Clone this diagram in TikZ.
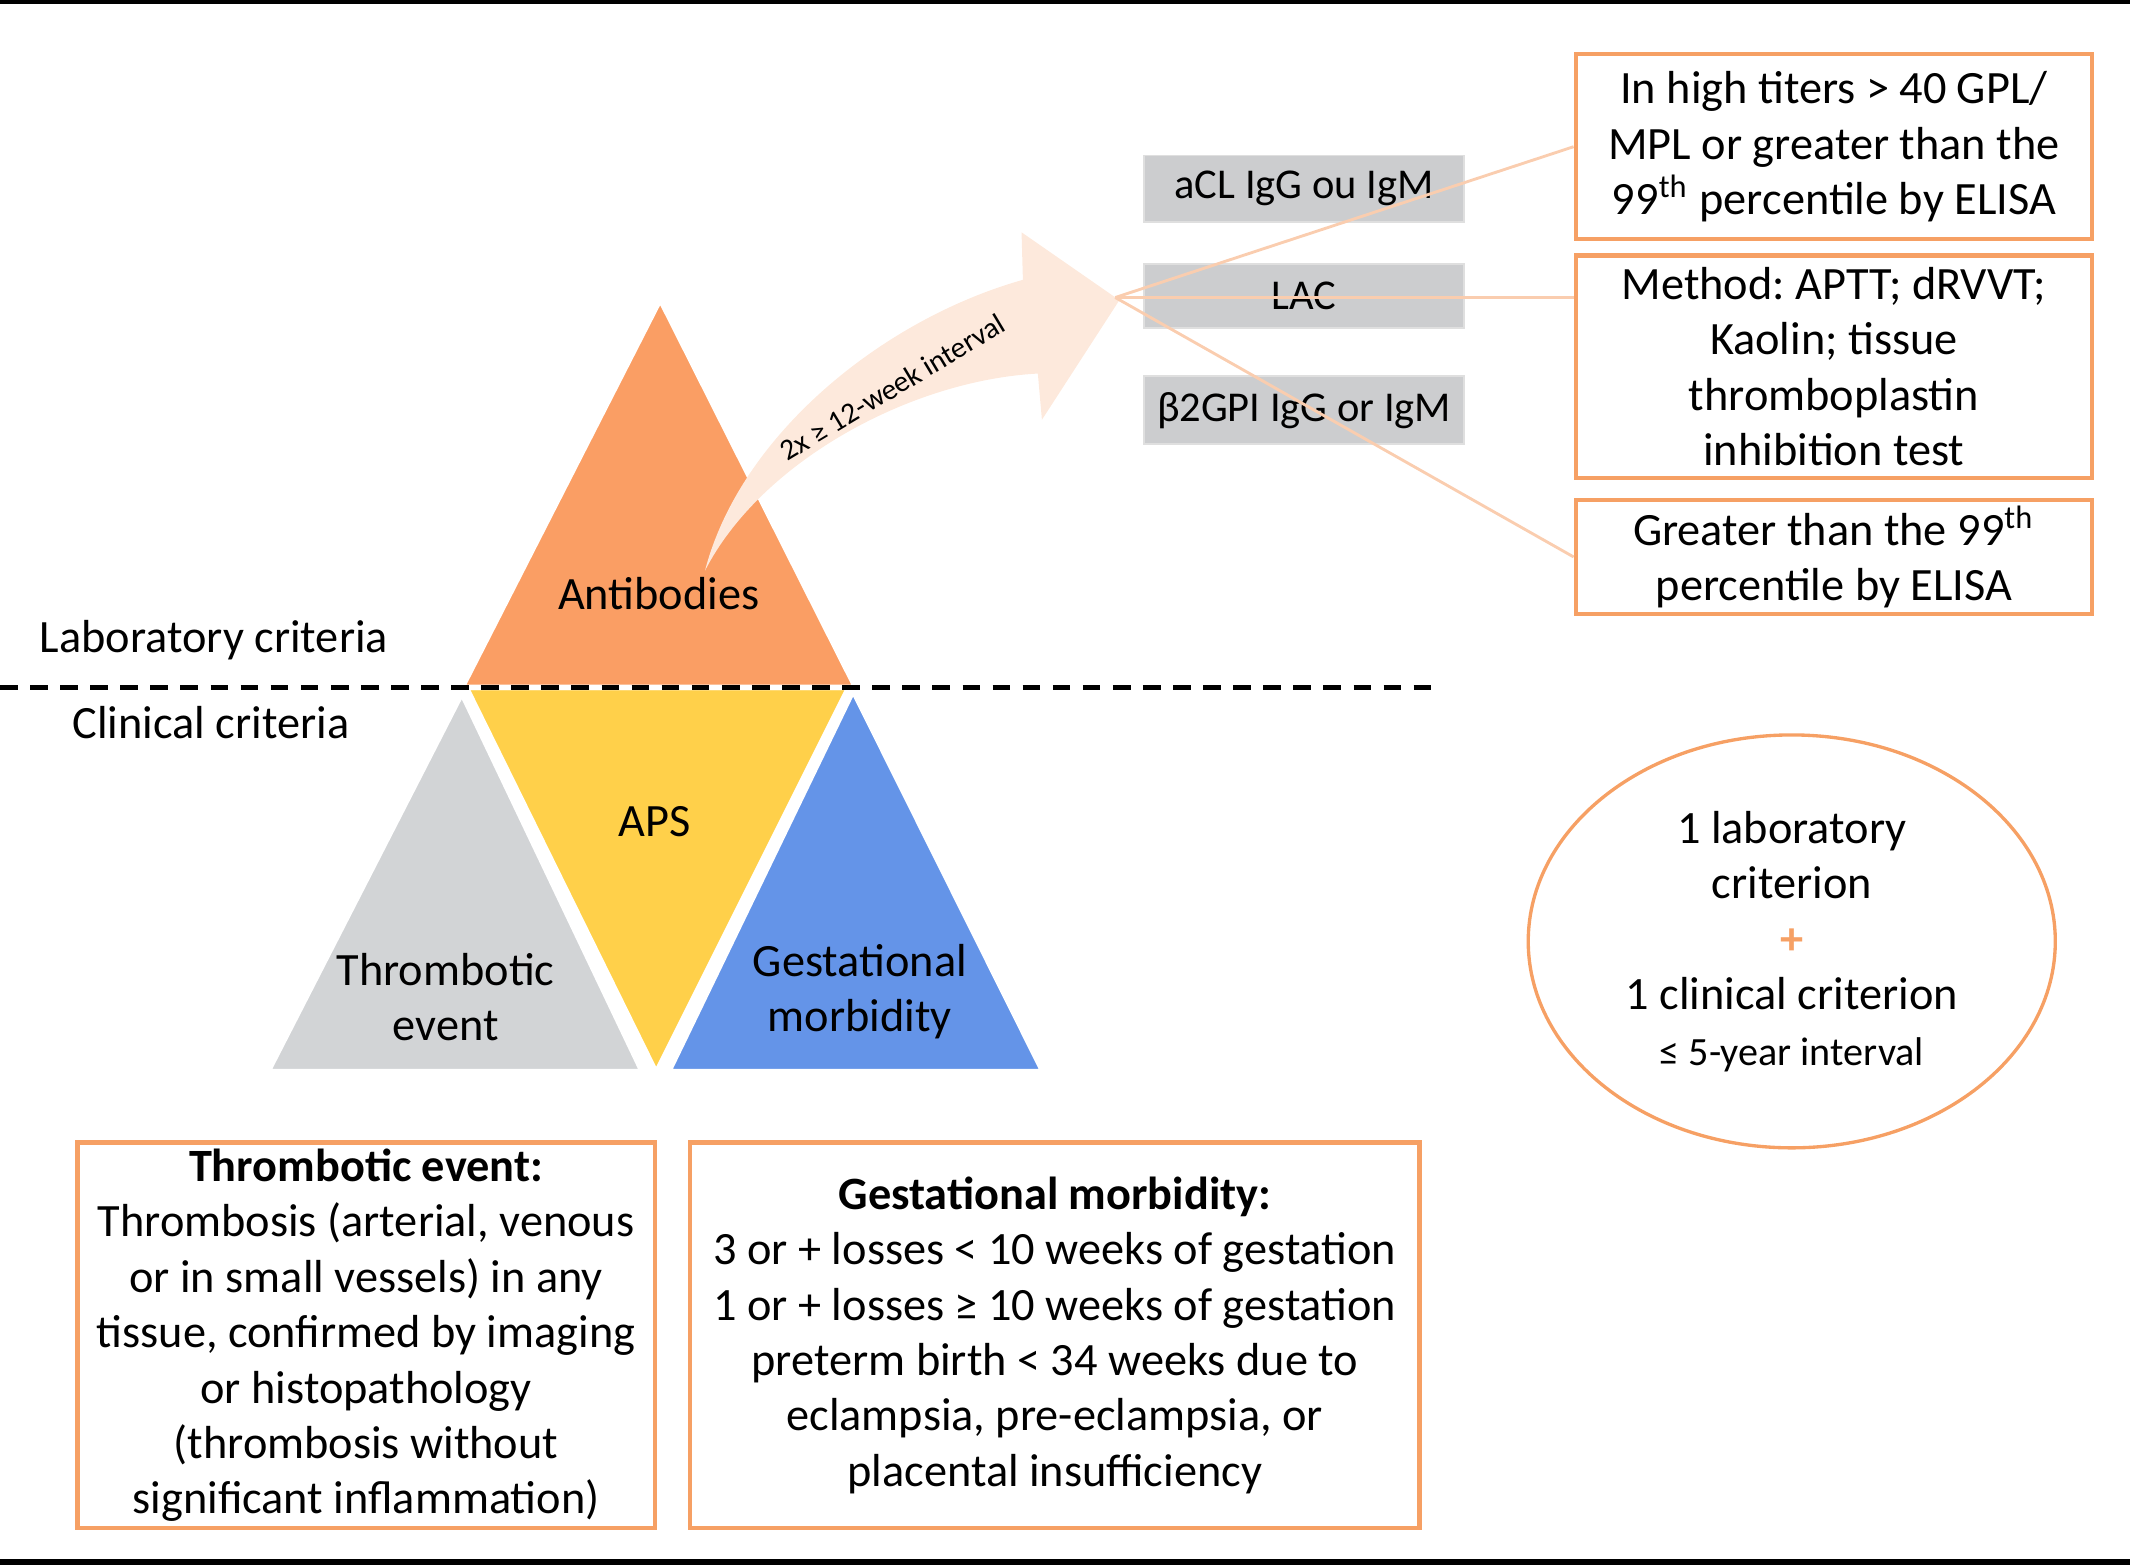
\documentclass[tikz,border=0pt]{standalone}
\usepackage{fontspec}
\setmainfont{Carlito}
\usepackage{xcolor}
\usetikzlibrary{
    shapes.geometric,
    positioning,
    calc
}
\definecolor{apsorange}{RGB}{250,158,100}
\definecolor{apsyellow}{RGB}{255,208,74}
\definecolor{apsgray}{RGB}{210,212,214}
\definecolor{apsblue}{RGB}{100,148,232}
\definecolor{frameorange}{RGB}{246,160,100}
\definecolor{arrowpeach}{RGB}{253,233,220}
\definecolor{linkorange}{RGB}{250,205,175}
\definecolor{testgray}{RGB}{204,205,207}
\frenchspacing

\begin{document}
\begin{tikzpicture}[
        every node/.style={font=\fontsize{9.7}{11.6}\selectfont},
        critbox/.style={draw=frameorange, line width=0.9pt, minimum width=3.8cm, align=center, inner sep=1pt},
        testbox/.style={draw=gray!25, fill=testgray, minimum width=2.36cm, minimum height=0.47cm, inner xsep=1pt, font=\fontsize{8.9}{11.6}\selectfont},
        tri/.style={draw=white, line width=1.2pt},
        link/.style={draw=linkorange, line width=0.6pt}
    ]
        \useasboundingbox (0,0) rectangle (15.68,-11.52);
        \draw[line width=1.3pt] (0,-0.01) -- (15.68,-0.01);
        \draw[line width=1.3pt] (0,-11.50) -- (15.68,-11.50);

        % Triangles
        \path[tri, fill=apsgray] (3.40,-5.10) -- (4.73,-7.89) -- (1.97,-7.89) -- cycle;
        \path[tri, fill=apsblue] (6.28,-5.08) -- (7.68,-7.89) -- (4.92,-7.89) -- cycle;
        \path[tri, fill=apsyellow] (3.43,-5.06) -- (6.25,-5.06) -- (4.83,-7.90) -- cycle;
        \path[tri, fill=apsorange] (3.40,-5.06) -- (4.86,-2.20) -- (6.30,-5.06) -- cycle;

        % Curved arrow
        \path[fill=arrowpeach] (5.19,-4.20) .. controls (5.45,-3.20) and (6.50,-2.35) .. (7.53,-2.06)
            -- (7.52,-1.71) -- (8.24,-2.21) -- (7.67,-3.09) -- (7.64,-2.75)
            .. controls (6.70,-2.80) and (5.60,-3.40) .. cycle;
        \coordinate (tip) at (8.21,-2.19);
        \node[rotate=31, font=\fontsize{6.2}{7}\selectfont] (interval) at (6.57,-2.85) {2x ≥ 12-week interval};

        % Criteria divider
        \draw[line width=1pt, dash pattern=on 3.7pt off 2.6pt] (0,-5.06) -- (10.62,-5.06);
        \node[anchor=west] (lab) at (0.17,-4.71) {Laboratory criteria};
        \node[anchor=west] (clin) at (0.41,-5.32) {Clinical criteria};

        % Triangle labels
        \node (anti) at (4.85,-4.37) {Antibodies};
        \node (aps) at (4.82,-6.05) {APS};
        \node[align=center] (thr) at (3.28,-7.34) {Thrombotic\\event};
        \node[align=center] (gm) at (6.33,-7.30) {Gestational\\morbidity};

        % Antibody tests
        \node[testbox] (acl) at (9.60,-1.39) {aCL IgG ou IgM};
        \node[testbox] (lac) at (9.60,-2.18) {LAC};
        \node[testbox] (b2gpi) at (9.60,-3.02) {β2GPI IgG or IgM};

        \node[critbox, minimum height=1.36cm] (titer) at (13.50,-1.08) {In high titers > 40 GPL/\\MPL or greater than the\\99\textsuperscript{th} percentile by ELISA};
        \node[critbox, minimum height=1.64cm] (method) at (13.50,-2.70) {Method: APTT; dRVVT;\\Kaolin; tissue\\thromboplastin\\inhibition test};
        \node[critbox, minimum height=0.84cm] (elisa) at (13.50,-4.10) {Greater than the 99\textsuperscript{th}\\percentile by ELISA};

        \draw[link] (tip) -- (titer.west);
        \draw[link] (tip) -- (tip -| method.west);
        \draw[link] (tip) -- (elisa.west);

        % Diagnosis rule
        \node[ellipse, draw=frameorange, line width=0.7pt, minimum width=3.88cm, minimum height=2.82cm, align=center] (rule) at (13.19,-6.93) {
            1 laboratory\\
            criterion\\
            {\color{frameorange}\textbf{+}}\\
            1 clinical criterion\\
            {\fontsize{8.4}{11.6}\selectfont ≤ 5-year interval}
        };

        % Clinical criteria details
        \node[critbox, minimum width=4.25cm, minimum height=2.84cm] (thrombo) at (2.695,-9.83) {
            \textbf{Thrombotic event:}\\
            Thrombosis (arterial, venous\\
            or in small vessels) in any\\
            tissue, confirmed by imaging\\
            or histopathology\\
            (thrombosis without\\
            significant inflammation)
        };
        \node[critbox, minimum width=5.37cm, minimum height=2.84cm] (gest) at (7.765,-9.83) {
            \textbf{Gestational morbidity:}\\
            3 or + losses < 10 weeks of gestation\\
            1 or + losses ≥ 10 weeks of gestation\\
            preterm birth < 34 weeks due to\\
            eclampsia, pre-eclampsia, or\\
            placental insufficiency
        };
    \end{tikzpicture}
\end{document}
